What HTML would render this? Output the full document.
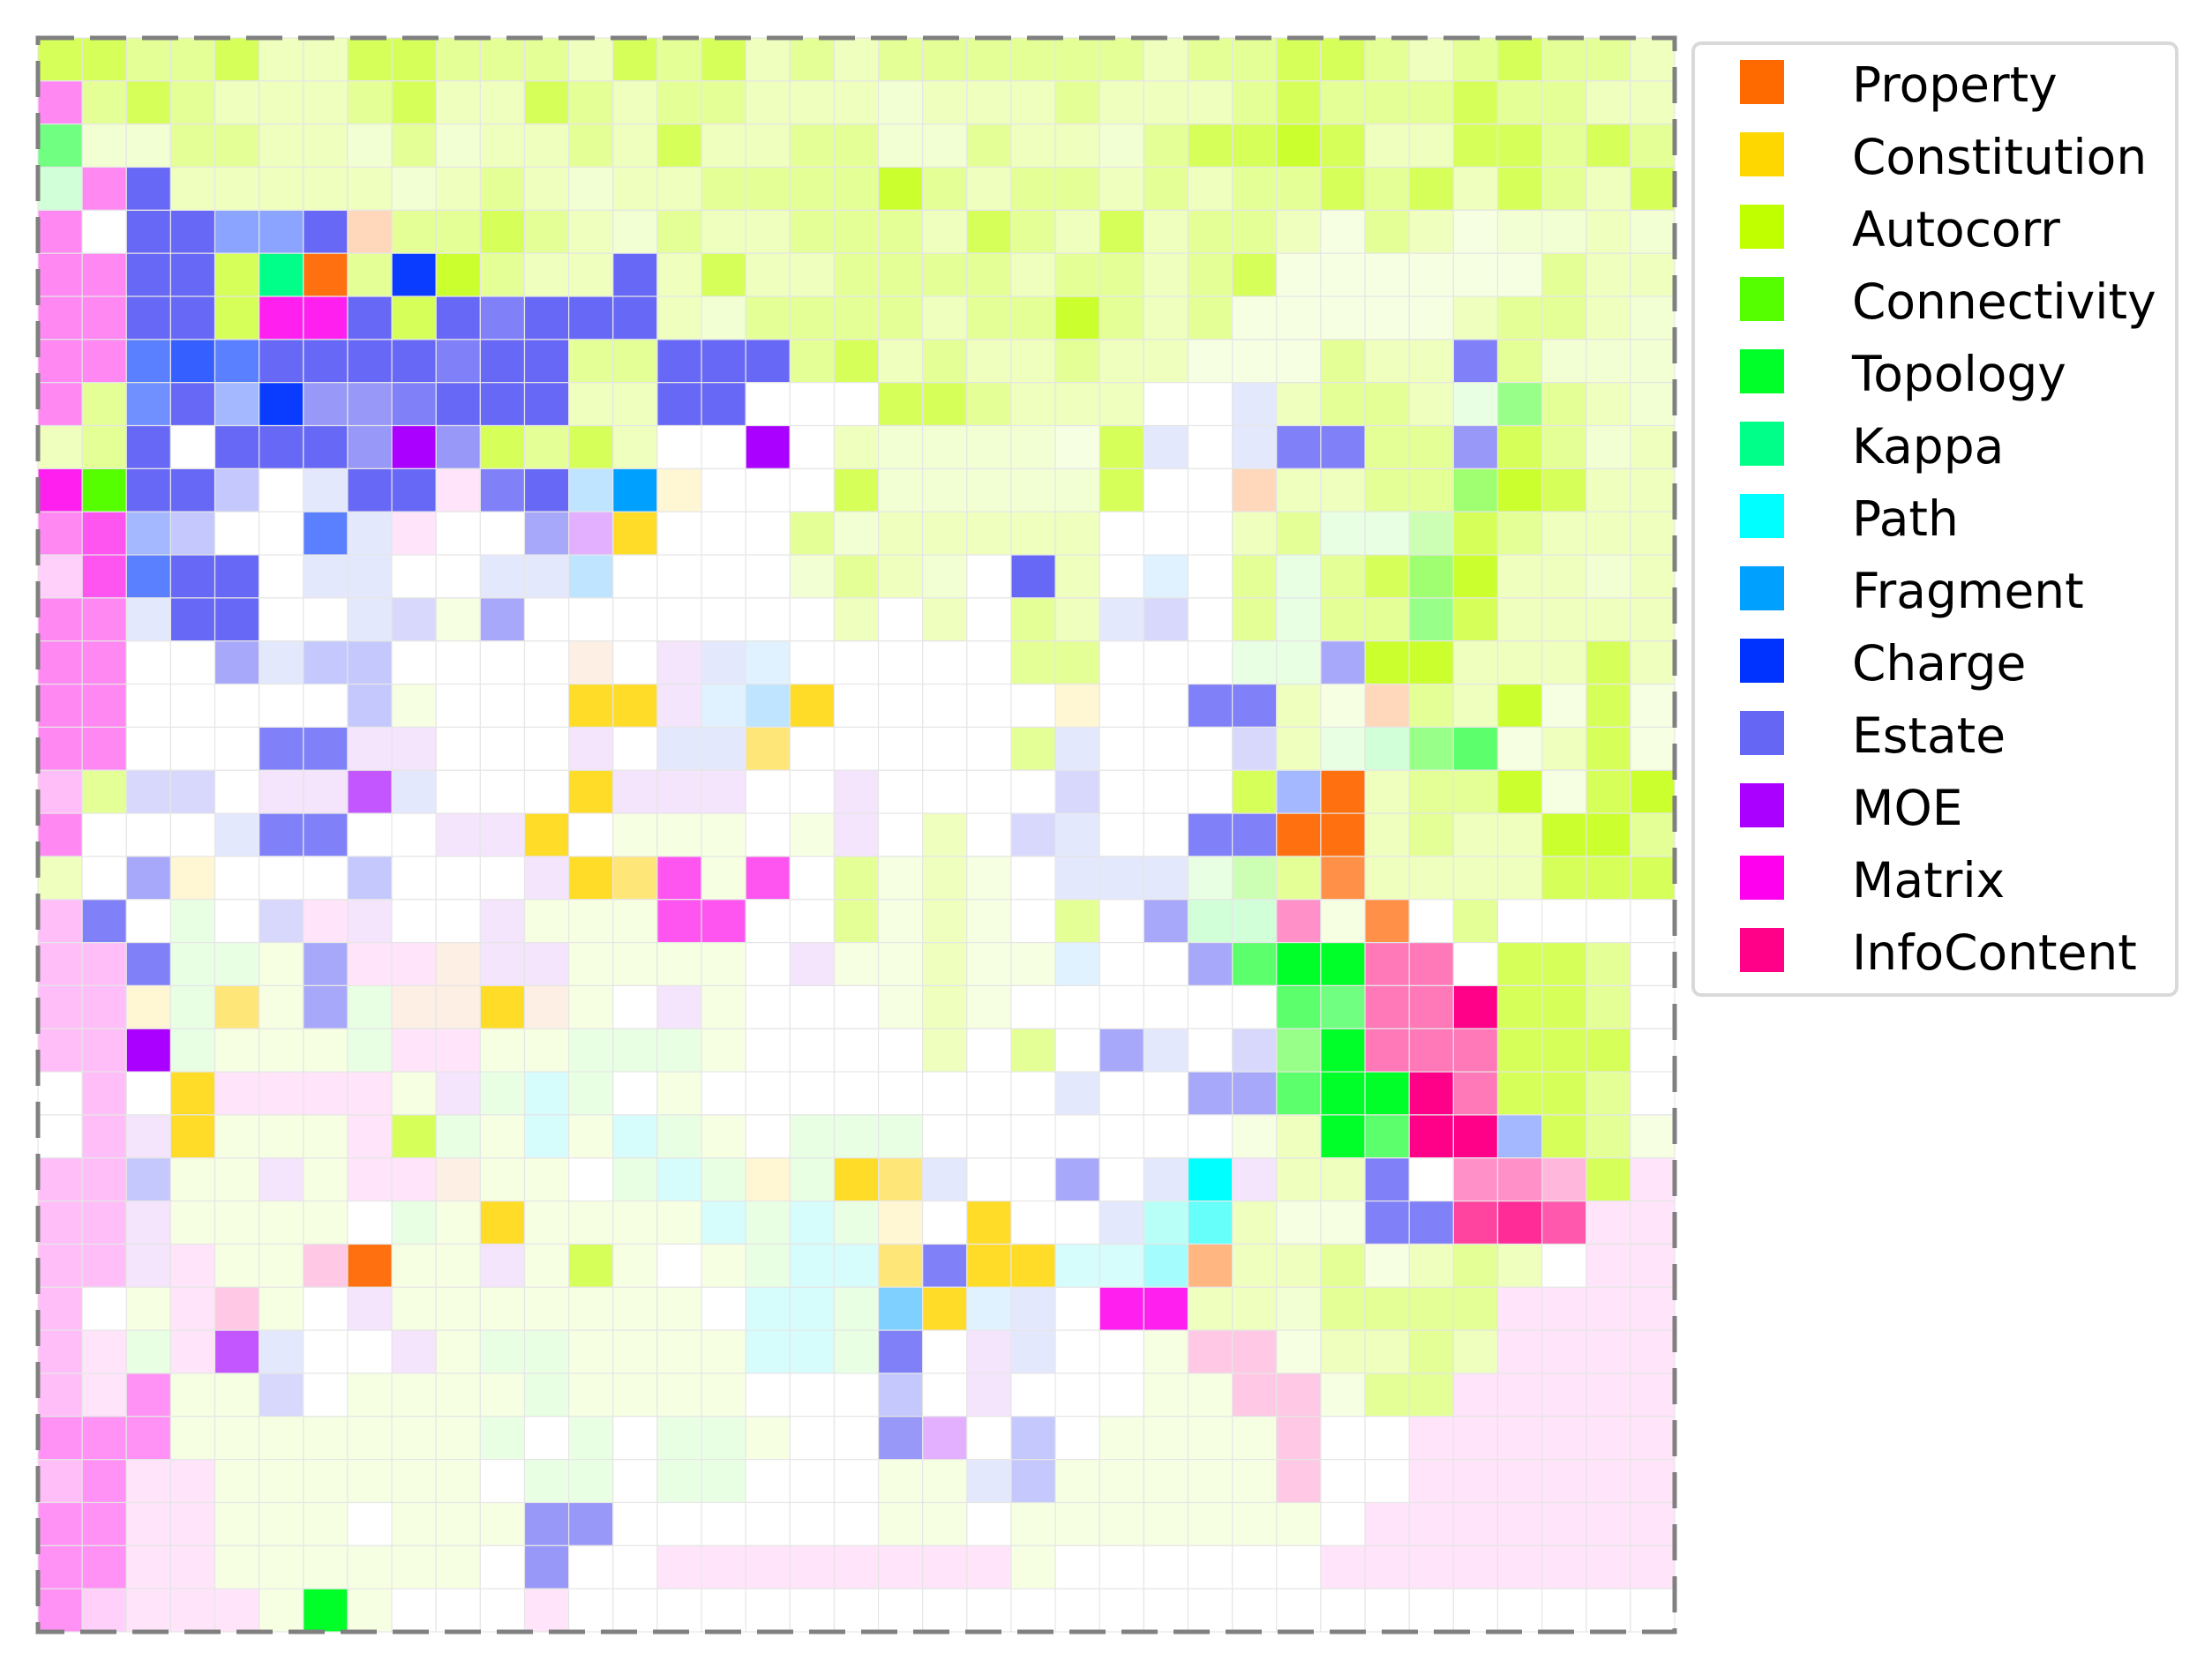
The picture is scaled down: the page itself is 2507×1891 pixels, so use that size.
<!DOCTYPE html>
<html><head><meta charset="utf-8">
<style>
html,body{margin:0;padding:0;background:#fff;}
svg{display:block;}
text{font-family:"DejaVu Sans","Liberation Sans",sans-serif;}
</style></head>
<body>
<svg id="chart" width="2507" height="1891" viewBox="0 0 2507 1891" xmlns="http://www.w3.org/2000/svg">
<g id="cells"></g>
<rect x="43" y="43" width="1855" height="1807" fill="none" stroke="#808080" stroke-width="5" stroke-dasharray="41 18"/>
<g id="legend">
<rect x="1919" y="49" width="548" height="1079" rx="9" fill="#fff" stroke="#d9d9d9" stroke-width="4"/>
</g>
</svg>
<script>
// Heatmap data: each character is a cell color category code
const rowCodesLeft = [
"YYyyYllYYyyylYyYlyl","PyYylllyYllYylyylll","LmmyyllmymllylYllyy","gPBlllllmlylmllyyyy",
"P.BBnnBoyyYylmyllyy","PPBBYKOyCAyllBlYlly","PPBBYMMBYBbBBBlmyyy","PPsSsBBBBbBByyBBByY",
"PytBuCvvbBBBllBB...","lyB.BBBvVvYyYl..V.l","MRBBc.dBBqbBwFe...Y","PNuc..sdq..xXZ...ym",
"pNsBB.dd..ddw....my","PPdBB..dDkx.......l","PP..xdcc....f.Edz..","PP.....ck...ZZEzwZ.",
"PP...bbEE...E.ddU..","ryDD.EEWd...ZEEE..E","P...dbb..EEZ.kkk.kE","l.xe...c...EZUNkN.y",
"rb.h.DqE..EkkkNN..y","rrbhhkxqqfEEkkkk.Ek","rrehUkxhffZfk.Ek...","rrVhkkkhqqkkhhhk...",
".r.ZqqqqkEhah.k....",".rEZkkkqYhkakahk.hh","rrckkEkqqfkk.hahehZ","rrEkkkk.hkZkkkkahah",
"rrEqkk7OkkEkYk.khaa","r.kq7k.Ekkkkkkk.aah","rqhqWd..Ekhhkkkkaah","rq%kkD.kkkkhkkkk...",
"%%%kkkkkkkh.h.hhk..","r%qqkkkkkk.hh.hh...","%%qqkkk.kkkvv......","%%qqkkkkkk.v..qqqqq",
"%pqqqkGk...q......."
];
const rowCodesRight = [
"yyyyyylyyYYylyYyyl","mlllylllyYyyyYyyll","mmyllmyYYAYllYYyYy","AylyylylyyYyYlYylY",
"ylYylYlyylkylkmmlm","yyylyylyYkkkkkkyll","ylyyAylykkkkklyylm","lyllyllkkkyllbymmm",
"YYylll..dlyylhHylm","mmmmkYd.dbbyyvYyml","mmmmmY..ollyyIAYll","lllll...lyhhJYylll",
"lm.Bl.z.yhyYIAllml",".l.yldD.yhyyHYllll","...yy...hhxAAlllYl","....e..bblkoylAkYk",
"...yd...DlhgHQklYk","....D...YuOlyyAkYA",".l.Dd..bbOOlyllAAy","klk.dddhJyTllllYYY",
"klk.y.xggikT.y....","klkkz..xQGGjj.YYy.","klk......QLjj#YYy.",".l.y.xd.DHGjjjYYY.",
"....d..xxQGG#jYYy.","h.......klGQ##uYyk","Ud..x.d0Ellb.ii1Yq","e.Z..d23lkkbb456qq",
"UbZZaa89llyklyl.qq","$Zzd.MMllmyyyyqqqq","b.Ed..k77kllylqqqq","c.E...kk77kyyqqqqq",
"vX.c.kkkk7..qqqqqq","kkdckkkkk7..qqqqqq","kk.kkkkkkk.qqqqqqq","qqqk......qqqqqqqq",
".................."
];
const legendLabels = ["Property","Constitution","Autocorr","Connectivity","Topology","Kappa","Path","Fragment","Charge","Estate","MOE","Matrix","InfoContent"];
const legendColors = ["#ff6a00","#ffd700","#c0ff00","#55ff00","#00ff28","#00ff88","#00ffff","#00a0ff","#0033ff","#6666f5","#aa00ff","#ff00ee","#ff0088"];
const codeColors = {
"Y":"#d6ff5a","y":"#e4ff96","l":"#eeffbe","m":"#f2ffd2","k":"#f6ffe2","A":"#cbff2e",".":"#ffffff",
"P":"#ff88f2","p":"#ffd0fa","q":"#ffe4fa","r":"#ffbef8","%":"#ff92f4",
"B":"#6868f6","b":"#8080f8","v":"#9898f8","x":"#a8a8fa","c":"#c4c8fc","D":"#d8d8fc","d":"#e4e8fc",
"n":"#8aa4ff","s":"#5a80ff","S":"#3560ff","t":"#7090ff","u":"#a4b8ff","C":"#0a3cff",
"o":"#ffd8bc","O":"#ff7010","T":"#ff9048","K":"#00ff88","M":"#ff20f0","N":"#ff55f0","R":"#55ff00",
"G":"#00ff28","g":"#d0ffd8","Q":"#5cff6c","L":"#70ff80","H":"#98ff88","I":"#a0ff70","J":"#ccffb4","h":"#e8ffe4",
"V":"#aa00ff","W":"#c456ff","X":"#e2b0ff","E":"#f4e4fc","e":"#fff6d4","f":"#fdefe4","U":"#ffe678","Z":"#ffdc28",
"F":"#00a0ff","w":"#bee4ff","z":"#e0f2ff","a":"#d6fcfc","i":"#ff90c8","j":"#ff78b8","#":"#ff0088",
"0":"#00ffff","1":"#ffb8dc","2":"#b8fff8","3":"#66fffa","4":"#ff44a0","5":"#ff2c98","6":"#ff58ac",
"7":"#ffc8e4","8":"#a4fcfc","9":"#ffb680","$":"#80d0ff"
};

const NS = "http://www.w3.org/2000/svg";
const X0 = 43, Y0 = 43, W = 1855, H = 1807;
const nRows = rowCodesLeft.length;
const nCols = 37;
const cw = W / nCols, ch = H / nRows;
function xPos(c){ return X0 + c * cw; }
function yPos(r){ return Y0 + r * ch; }
const cellsG = document.getElementById('cells');
for (let r = 0; r < nRows; r++) {
  let codes = ((rowCodesLeft[r] || "").padEnd(19, ".").slice(0,19) + (rowCodesRight[r] || "").padEnd(18, ".").slice(0,18));
  for (let c = 0; c < nCols; c++) {
    const rect = document.createElementNS(NS, 'rect');
    rect.setAttribute('x', xPos(c));
    rect.setAttribute('y', yPos(r));
    rect.setAttribute('width', cw);
    rect.setAttribute('height', ch);
    rect.setAttribute('fill', codeColors[codes[c]] || '#ffffff');
    rect.setAttribute('stroke', '#e6e6e6');
    rect.setAttribute('stroke-width', '1.2');
    
    
    cellsG.appendChild(rect);
  }
}
const legendG = document.getElementById('legend');
for (let i = 0; i < legendLabels.length; i++) {
  const y = 68 + i * 82;
  const sw = document.createElementNS(NS, 'rect');
  sw.setAttribute('x', 1972); sw.setAttribute('y', y);
  sw.setAttribute('width', 50); sw.setAttribute('height', 50);
  sw.setAttribute('fill', legendColors[i]);
  
  
  legendG.appendChild(sw);
  const t = document.createElementNS(NS, 'text');
  t.setAttribute('x', 2099); t.setAttribute('y', y + 47);
  t.setAttribute('font-size', '55');
  t.setAttribute('fill', '#000');
  t.textContent = legendLabels[i];
  
  
  legendG.appendChild(t);
}
</script>
</body></html>
